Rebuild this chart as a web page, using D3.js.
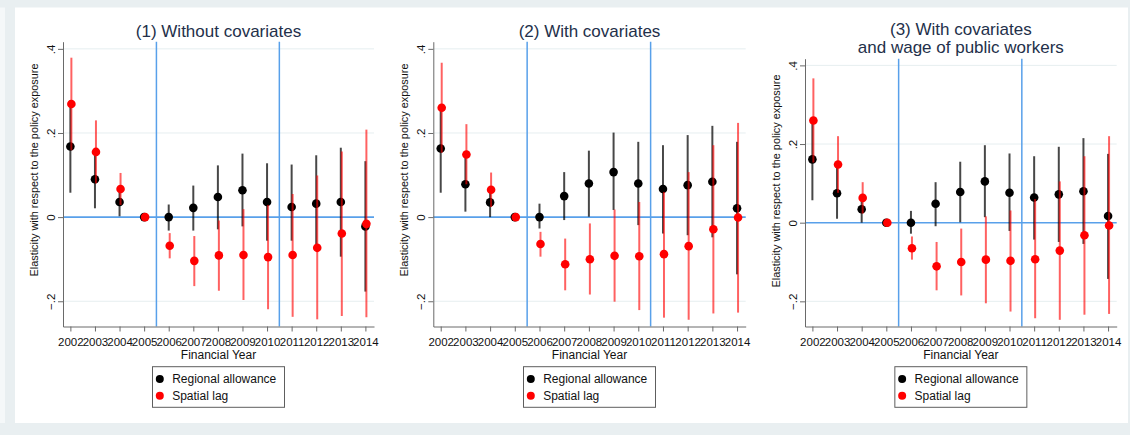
<!DOCTYPE html>
<html>
<head>
<meta charset="utf-8">
<script src="https://cdn.jsdelivr.net/npm/d3@7"></script>
<style>
  html, body { margin: 0; padding: 0; background: #e9eff1; }
  svg { display: block; font-family: "Liberation Sans", Arial, sans-serif; }
</style>
</head>
<body>
<svg id="chart" width="1130" height="435"></svg>
<script>
// Event-study estimates, reference year 2005 (normalised to zero)
const years = [2002, 2003, 2004, 2005, 2006, 2007, 2008, 2009, 2010, 2011, 2012, 2013, 2014];
const yTicks = [-0.2, 0, 0.2, 0.4];
const reformYears = [2005.5, 2010.5];
const seriesNames = ["Regional allowance", "Spatial lag"];
const panelTitles = [
  ["(1) Without covariates"],
  ["(2) With covariates"],
  ["(3) With covariates", "and wage of public workers"]
];
const xTitle = "Financial Year";
const yTitle = "Elasticity with respect to the policy exposure";

// (1) Without covariates
const p1RegCoef = [0.168, 0.090, 0.036, 0, 0.000, 0.022, 0.048, 0.064, 0.036, 0.024, 0.032, 0.036, -0.022];
const p1RegLo   = [0.058, 0.021, 0.002, null, -0.032, -0.032, -0.029, -0.022, -0.056, -0.056, -0.066, -0.094, -0.177];
const p1RegHi   = [0.278, 0.160, 0.070, null, 0.030, 0.075, 0.123, 0.151, 0.128, 0.125, 0.147, 0.165, 0.133];
const p1LagCoef = [0.269, 0.155, 0.067, 0, -0.068, -0.104, -0.091, -0.090, -0.095, -0.090, -0.073, -0.039, -0.016];
const p1LagLo   = [0.159, 0.080, 0.029, null, -0.098, -0.164, -0.175, -0.197, -0.219, -0.237, -0.243, -0.235, -0.238];
const p1LagHi   = [0.379, 0.230, 0.105, null, -0.038, -0.045, -0.008, 0.019, 0.029, 0.055, 0.099, 0.156, 0.208];

// (2) With covariates
const p2RegCoef = [0.163, 0.078, 0.035, 0, 0.000, 0.050, 0.080, 0.107, 0.080, 0.067, 0.076, 0.084, 0.021];
const p2RegLo   = [0.058, 0.013, 0.000, null, -0.027, -0.007, 0.001, 0.017, -0.019, -0.039, -0.043, -0.048, -0.136];
const p2RegHi   = [0.267, 0.143, 0.070, null, 0.032, 0.107, 0.158, 0.201, 0.179, 0.171, 0.195, 0.217, 0.179];
const p2LagCoef = [0.260, 0.149, 0.065, 0, -0.064, -0.112, -0.100, -0.092, -0.093, -0.088, -0.069, -0.029, -0.001];
const p2LagLo   = [0.153, 0.078, 0.024, null, -0.094, -0.174, -0.184, -0.201, -0.221, -0.239, -0.244, -0.229, -0.227];
const p2LagHi   = [0.367, 0.221, 0.106, null, -0.035, -0.051, -0.015, 0.018, 0.036, 0.060, 0.107, 0.171, 0.224];

// (3) With covariates and wage of public workers
const p3RegCoef = [0.161, 0.075, 0.034, 0, 0.000, 0.048, 0.078, 0.105, 0.076, 0.064, 0.072, 0.080, 0.017];
const p3RegLo   = [0.057, 0.010, 0.000, null, -0.028, -0.009, 0.001, 0.014, -0.021, -0.043, -0.049, -0.054, -0.143];
const p3RegHi   = [0.265, 0.140, 0.068, null, 0.030, 0.103, 0.155, 0.197, 0.176, 0.169, 0.193, 0.215, 0.175];
const p3LagCoef = [0.260, 0.148, 0.063, 0, -0.065, -0.111, -0.100, -0.094, -0.097, -0.093, -0.071, -0.032, -0.007];
const p3LagLo   = [0.153, 0.076, 0.023, null, -0.094, -0.172, -0.185, -0.205, -0.226, -0.243, -0.247, -0.234, -0.232];
const p3LagHi   = [0.367, 0.220, 0.103, null, -0.035, -0.049, -0.015, 0.016, 0.031, 0.060, 0.105, 0.169, 0.220];

const panelData = [
  { reg: [p1RegCoef, p1RegLo, p1RegHi], lag: [p1LagCoef, p1LagLo, p1LagHi] },
  { reg: [p2RegCoef, p2RegLo, p2RegHi], lag: [p2LagCoef, p2LagLo, p2LagHi] },
  { reg: [p3RegCoef, p3RegLo, p3RegHi], lag: [p3LagCoef, p3LagLo, p3LagHi] }
];

// Layout of the three graph panels
const layout = [
  { left: 63,    right: 374,    top: 41.7, yMin: -0.26,  titleY: [36.5],       yTitleY: 170 },
  { left: 433.3, right: 745.7,  top: 41.7, yMin: -0.26,  titleY: [36.5],       yTitleY: 170 },
  { left: 805,   right: 1116.7, top: 58.7, yMin: -0.264, titleY: [35.3, 52.6], yTitleY: 181 }
];
const bottom = 326.5;
const xDomain = [2001.7, 2014.35];
const yMax = 0.417;

const C = {
  title: "#23304a", axis: "#6a6a6a", text: "#111111", grid: "#e6eef0",
  blue: "#58a0ea", reg: "#000000", lag: "#ff0000"
};

const svg = d3.select("#chart");

// background and white card
svg.append("rect").attr("width", 1130).attr("height", 435).attr("fill", "#e9eff1");
svg.append("rect").attr("x", 0).attr("y", 7.5).attr("width", 5).attr("height", 415.5).attr("fill", "#f5f8f9");
svg.append("rect").attr("x", 15).attr("y", 7.5).attr("width", 1113).attr("height", 415.5).attr("fill", "#ffffff");

const fmtTick = d => d === 0 ? "0" : d3.format(".1f")(d).replace("0.", ".");

layout.forEach((L, i) => {
  const D = panelData[i];
  const g = svg.append("g");
  const x = d3.scaleLinear().domain(xDomain).range([L.left, L.right]);
  const y = d3.scaleLinear().domain([L.yMin, yMax]).range([bottom, L.top]);
  const cx = (L.left + L.right) / 2;

  // gridlines
  g.selectAll("line.grid").data(yTicks.filter(t => t !== 0)).join("line")
    .attr("x1", L.left).attr("x2", L.right)
    .attr("y1", d => y(d)).attr("y2", d => y(d))
    .attr("stroke", C.grid).attr("stroke-width", 1);

  // reference lines
  g.selectAll("line.ref").data(reformYears).join("line")
    .attr("x1", d => x(d)).attr("x2", d => x(d))
    .attr("y1", L.top).attr("y2", bottom)
    .attr("stroke", C.blue).attr("stroke-width", 1.5);
  g.append("line")
    .attr("x1", L.left).attr("x2", L.right)
    .attr("y1", y(0)).attr("y2", y(0))
    .attr("stroke", C.blue).attr("stroke-width", 1.6);

  // axes
  const yAxis = d3.axisLeft(y).tickValues(yTicks).tickSize(5).tickSizeOuter(0).tickFormat(fmtTick);
  const ya = g.append("g").attr("transform", `translate(${L.left},0)`).call(yAxis);
  ya.select(".domain").attr("stroke", C.axis);
  ya.selectAll(".tick line").attr("stroke", C.axis);
  ya.selectAll(".tick text")
    .attr("transform", "rotate(-90)")
    .attr("x", 0).attr("y", -8.5).attr("dy", 0)
    .attr("text-anchor", "middle")
    .attr("fill", C.text).style("font-size", "11.5px").style("font-family", "Liberation Sans, Arial, sans-serif");

  const xAxis = d3.axisBottom(x).tickValues(years).tickSize(5).tickSizeOuter(0).tickFormat(d3.format("d"));
  const xa = g.append("g").attr("transform", `translate(0,${bottom})`).call(xAxis);
  xa.select(".domain").attr("stroke", C.axis);
  xa.selectAll(".tick line").attr("stroke", C.axis);
  xa.selectAll(".tick text")
    .attr("y", 19.5).attr("dy", 0)
    .attr("fill", C.text).style("font-size", "11.5px").style("font-family", "Liberation Sans, Arial, sans-serif");

  // confidence intervals and point estimates
  const drawSeries = (arr, color, lineOpacity, dx) => {
    const [coef, lo, hi] = arr;
    const rows = years.map((yr, k) => ({ yr, c: coef[k], lo: lo[k], hi: hi[k] }));
    g.append("g").selectAll("line").data(rows.filter(r => r.lo !== null)).join("line")
      .attr("x1", d => x(d.yr) + dx).attr("x2", d => x(d.yr) + dx)
      .attr("y1", d => y(d.lo)).attr("y2", d => y(d.hi))
      .attr("stroke", color).attr("stroke-opacity", lineOpacity).attr("stroke-width", 2);
    g.append("g").selectAll("circle").data(rows).join("circle")
      .attr("cx", d => x(d.yr) + dx).attr("cy", d => y(d.c)).attr("r", 4.3)
      .attr("fill", color);
  };
  drawSeries(D.reg, C.reg, 0.72, 0);
  drawSeries(D.lag, C.lag, 0.62, 1);

  // titles
  panelTitles[i].forEach((t, k) => {
    g.append("text").attr("x", cx).attr("y", L.titleY[k]).attr("text-anchor", "middle")
      .attr("fill", C.title).style("font-size", "17px").text(t);
  });
  g.append("text").attr("x", cx).attr("y", 358.5).attr("text-anchor", "middle")
    .attr("fill", C.text).style("font-size", "12px").text(xTitle);
  g.append("text")
    .attr("transform", `translate(${L.left - 25},${L.yTitleY}) rotate(-90)`)
    .attr("text-anchor", "middle").attr("fill", C.text).style("font-size", "10.9px").text(yTitle);

  // legend
  const lx = cx - 66, ly = 366.7;
  const lg = g.append("g");
  lg.append("rect").attr("x", lx).attr("y", ly).attr("width", 132).attr("height", 40.6)
    .attr("fill", "#ffffff").attr("stroke", "#5e5e5e").attr("stroke-width", 1);
  seriesNames.forEach((name, k) => {
    const yy = ly + 12.3 + k * 16.7;
    lg.append("circle").attr("cx", lx + 7.3).attr("cy", yy).attr("r", 4)
      .attr("fill", k === 0 ? C.reg : C.lag);
    lg.append("text").attr("x", lx + 19.7).attr("y", yy + 4.3)
      .attr("fill", C.text).style("font-size", "12px").text(name);
  });
});
</script>
</body>
</html>
